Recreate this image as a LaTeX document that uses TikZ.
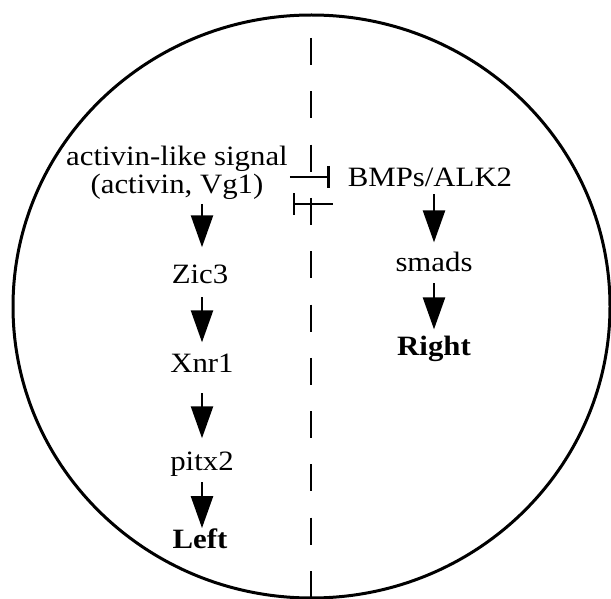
\documentclass[tikz,border=0pt]{standalone}
\usepackage{fontspec}
\setmainfont{Liberation Serif}[FakeStretch=1.1]
\usetikzlibrary{arrows.meta}
\begin{document}
\begin{tikzpicture}[x=1pt,y=-1pt,
  lbl/.style={inner sep=0pt, font=\fontsize{28}{28}\selectfont},
  arr/.style={line width=2.5pt, -{Triangle[width=22pt,length=32pt]}},
  inh/.style={line width=2.5pt, -{Bar[width=22pt,line width=2.5pt]}},
  divider/.style={line width=2.5pt, dash pattern=on 27pt off 26.3pt}]
\useasboundingbox (0,0) rectangle (611,599);
\draw[line width=3pt] (311.5,306.5) ellipse [x radius=298.5, y radius=291.5];
\coordinate (dtop) at (311,38);
\coordinate (dbot) at (311,598);
\draw[divider] (dtop) -- (dbot);
\coordinate (lx) at (202,0);
\coordinate (rx) at (434,0);
\coordinate (yA) at (0,177);
\coordinate (yB) at (0,204);
\node[lbl, anchor=north, align=center] (sig) at (177,146) {activin-like signal\\(activin, Vg1)};
\node[lbl, anchor=base] (zic) at (200,283) {Zic3};
\node[lbl, anchor=base] (xnr) at (202,372) {Xnr1};
\node[lbl, anchor=base] (pitx) at (202,470) {pitx2};
\node[lbl, anchor=base] (left) at (200,548) {\bfseries Left};
\node[lbl, anchor=base] (bmp) at (430,186) {BMPs/ALK2};
\node[lbl, anchor=base] (smads) at (434,272) {smads};
\node[lbl, anchor=base] (right) at (434,355) {\bfseries Right};
\draw[arr, shorten <=4pt, shorten >=17pt] (sig.south -| lx) -- (zic.north -| lx);
\draw[arr, shorten <=14pt, shorten >=11pt] (zic.south -| lx) -- (xnr.north -| lx);
\draw[arr, shorten <=21pt, shorten >=13pt] (xnr.south -| lx) -- (pitx.north -| lx);
\draw[arr, shorten <=6pt, shorten >=0pt] (pitx.south -| lx) -- (left.north -| lx);
\draw[arr, shorten <=8pt, shorten >=10pt] (bmp.south -| rx) -- (smads.north -| rx);
\draw[arr, shorten <=11pt, shorten >=6pt] (smads.south -| rx) -- (right.north -| rx);
\draw[inh, shorten <=2pt, shorten >=18pt] (sig.east |- yA) -- (bmp.west |- yA);
\draw[inh, shorten <=15pt, shorten >=5pt] (bmp.west |- yB) -- (sig.east |- yB);
\end{tikzpicture}
\end{document}
